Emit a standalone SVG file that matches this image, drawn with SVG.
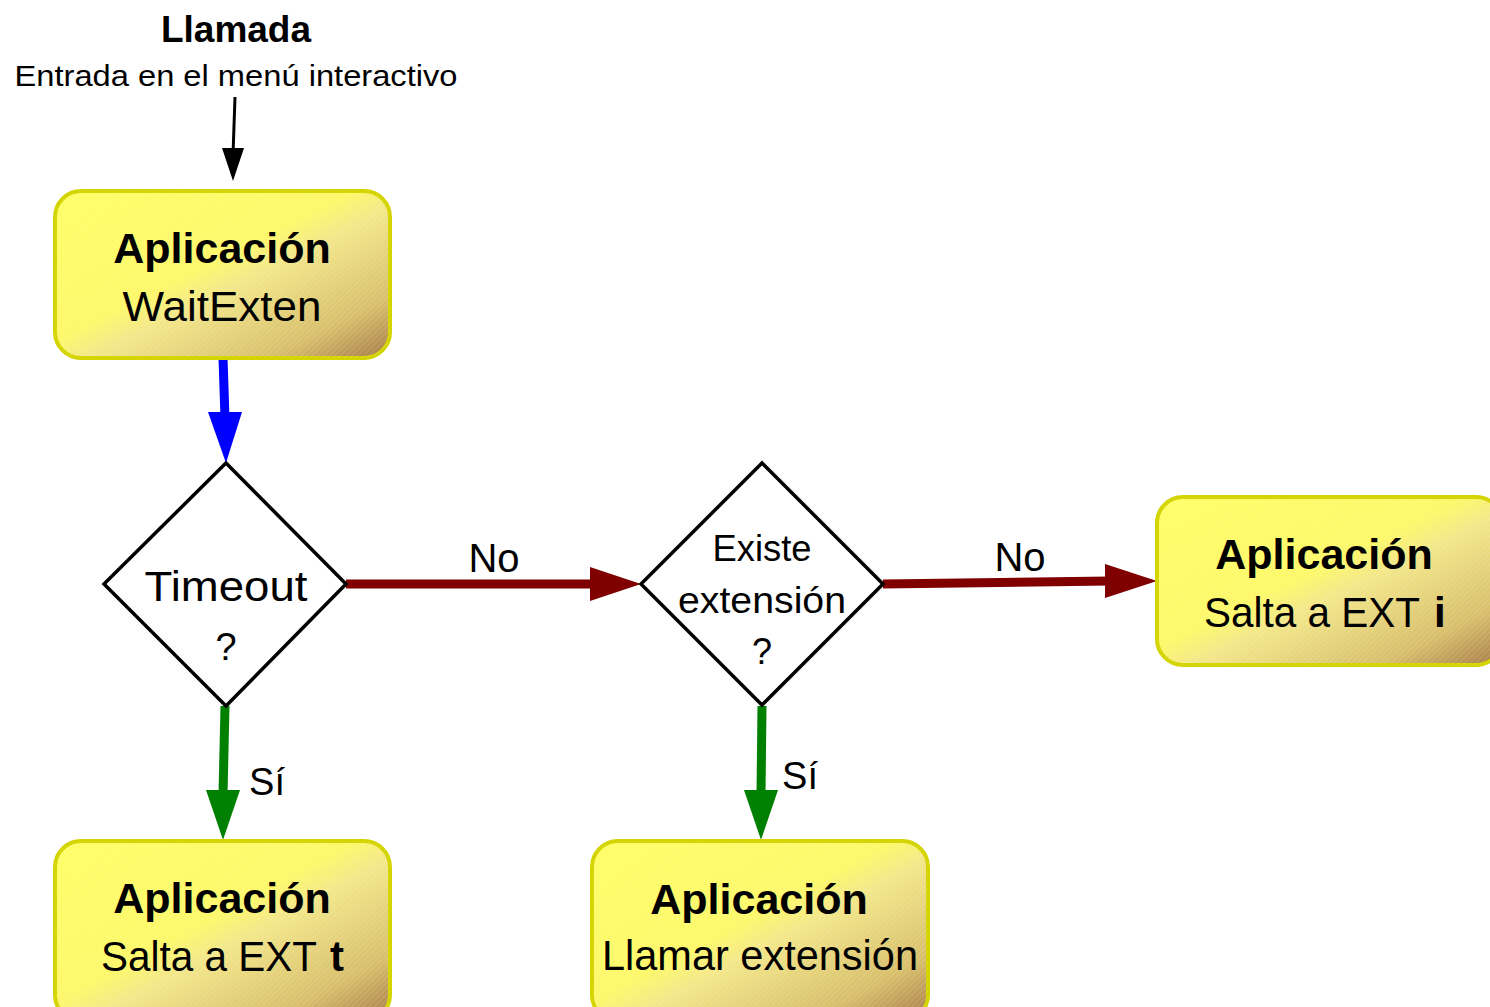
<svg xmlns="http://www.w3.org/2000/svg" width="1490" height="1007" viewBox="0 0 1490 1007">
<defs>
<linearGradient id="gold" x1="0" y1="0" x2="1" y2="1">
<stop offset="0" stop-color="#ffff66"/>
<stop offset="0.45" stop-color="#fdf86a"/>
<stop offset="0.55" stop-color="#f3e78a"/>
<stop offset="0.82" stop-color="#d8bf6c"/>
<stop offset="1" stop-color="#a67a48"/>
</linearGradient>
<pattern id="hatch" width="4" height="4" patternUnits="userSpaceOnUse" patternTransform="rotate(45)">
<line x1="0" y1="0" x2="0" y2="4" stroke="#ffffff" stroke-width="1" opacity="0.25"/>
</pattern>
</defs>
<style>
.box{stroke:#d4d400;stroke-width:4}
.dia{fill:#fff;stroke:#000;stroke-width:3.5}
text{font-family:"Liberation Sans",Arial,sans-serif;fill:#000}
.b{font-weight:bold}
</style>
<rect width="1490" height="1007" fill="#fff"/>

<g id="title">
<text x="236" y="42" text-anchor="middle" class="b" font-size="37">Llamada</text>
<text x="236" y="86" text-anchor="middle" font-size="29" textLength="443" lengthAdjust="spacingAndGlyphs">Entrada en el menú interactivo</text>
</g>

<g id="connectors">
<line x1="235" y1="97" x2="233" y2="155" stroke="#000" stroke-width="3"/>
<polygon points="222,148 244,148 233,181" fill="#000"/>
<line x1="223" y1="358" x2="225" y2="418" stroke="#0000ff" stroke-width="9"/>
<polygon points="208,412 242,412 226,463" fill="#0000ff"/>
<line x1="346" y1="584" x2="595" y2="584" stroke="#800000" stroke-width="9"/>
<polygon points="590,567 641,584 590,601" fill="#800000"/>
<line x1="883" y1="584" x2="1110" y2="581" stroke="#800000" stroke-width="9"/>
<polygon points="1105,564 1157,581 1105,598" fill="#800000"/>
<line x1="225" y1="706" x2="223" y2="795" stroke="#008000" stroke-width="9"/>
<polygon points="206,790 240,790 223,840" fill="#008000"/>
<line x1="762" y1="706" x2="761" y2="795" stroke="#008000" stroke-width="9"/>
<polygon points="744,790 778,790 761,840" fill="#008000"/>
<text x="494" y="572" text-anchor="middle" font-size="40">No</text>
<text x="1020" y="571" text-anchor="middle" font-size="40">No</text>
<text x="267" y="795" text-anchor="middle" font-size="38">Sí</text>
<text x="800" y="789" text-anchor="middle" font-size="38">Sí</text>
</g>

<g id="waitexten">
<rect class="box" x="55" y="191" width="335" height="167" rx="26" fill="url(#gold)"/>
<rect x="55" y="191" width="335" height="167" rx="26" fill="url(#hatch)"/>
<text x="222" y="263" text-anchor="middle" class="b" font-size="43">Aplicación</text>
<text x="222" y="321" text-anchor="middle" font-size="42" textLength="199" lengthAdjust="spacingAndGlyphs">WaitExten</text>
</g>

<g id="timeout">
<polygon class="dia" points="226,463 346,584 226,706 104,584"/>
<text x="226" y="601" text-anchor="middle" font-size="42" textLength="163" lengthAdjust="spacingAndGlyphs">Timeout</text>
<text x="226" y="660" text-anchor="middle" font-size="38">?</text>
</g>

<g id="existe">
<polygon class="dia" points="762,463 883,584 762,705 641,584"/>
<text x="762" y="561" text-anchor="middle" font-size="36" textLength="99" lengthAdjust="spacingAndGlyphs">Existe</text>
<text x="762" y="613" text-anchor="middle" font-size="36" textLength="168" lengthAdjust="spacingAndGlyphs">extensión</text>
<text x="762" y="664" text-anchor="middle" font-size="36">?</text>
</g>

<g id="saltai">
<rect class="box" x="1157" y="497" width="345" height="168" rx="26" fill="url(#gold)"/>
<rect x="1157" y="497" width="345" height="168" rx="26" fill="url(#hatch)"/>
<text x="1324" y="569" text-anchor="middle" class="b" font-size="43">Aplicación</text>
<text x="1204" y="627" font-size="42" textLength="216" lengthAdjust="spacingAndGlyphs">Salta a EXT</text>
<text x="1434" y="627" class="b" font-size="42">i</text>
</g>

<g id="saltat">
<rect class="box" x="55" y="841" width="335" height="180" rx="26" fill="url(#gold)"/>
<rect x="55" y="841" width="335" height="180" rx="26" fill="url(#hatch)"/>
<text x="222" y="913" text-anchor="middle" class="b" font-size="43">Aplicación</text>
<text x="101" y="971" font-size="42" textLength="216" lengthAdjust="spacingAndGlyphs">Salta a EXT</text>
<text x="330" y="971" class="b" font-size="42">t</text>
</g>

<g id="llamar">
<rect class="box" x="592" y="841" width="336" height="180" rx="26" fill="url(#gold)"/>
<rect x="592" y="841" width="336" height="180" rx="26" fill="url(#hatch)"/>
<text x="759" y="914" text-anchor="middle" class="b" font-size="43">Aplicación</text>
<text x="760" y="970" text-anchor="middle" font-size="42" textLength="316" lengthAdjust="spacingAndGlyphs">Llamar extensión</text>
</g>
</svg>
